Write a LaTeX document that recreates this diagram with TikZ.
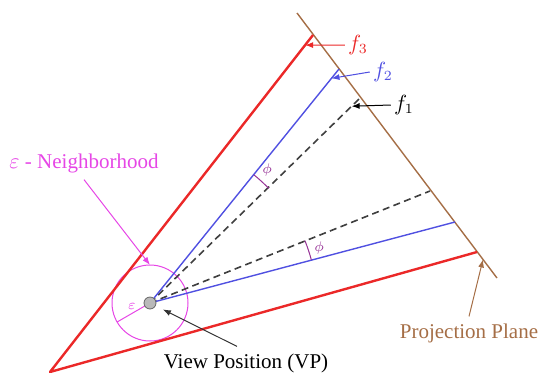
\documentclass[tikz,border=0pt]{standalone}
\usepackage{amsmath,amssymb}
\usepackage{fontspec}
\setmainfont{Liberation Serif}
\usetikzlibrary{arrows.meta,calc}
\definecolor{rayred}{RGB}{235,40,40}
\definecolor{rayblue}{RGB}{80,80,225}
\definecolor{nbhmag}{RGB}{230,70,230}
\definecolor{planebrown}{RGB}{165,110,70}
\definecolor{phipurple}{RGB}{150,50,150}

\begin{document}
\begin{tikzpicture}[x=0.5pt,y=0.5pt,every node/.style={font=\fontsize{10.5}{12}\selectfont},
  redray/.style={draw=rayred,line width=1.2pt,line join=round},
  blueray/.style={draw=rayblue,line width=0.7pt},
  viewray/.style={draw=black!75,line width=0.8pt,dash pattern=on 3.5pt off 2.2pt},
  pointer/.style={-{Latex[length=4pt,width=3pt]},line width=0.5pt}]
  \useasboundingbox (0,0) rectangle (541,372);
  \coordinate (apex) at (50,0);
  \coordinate (VP) at (150,69);
  \coordinate (pl1) at (297,359);
  \coordinate (pl2) at (497,94);
  \coordinate (r1) at (313,337);
  \coordinate (r2) at (477,120);
  \coordinate (b1) at (339,303);
  \coordinate (b2) at (455,150);
  \coordinate (d1) at (360,274);
  \coordinate (d2) at (430,181);
  \coordinate (t3) at ($(apex)!0.97!(r1)$);
  \coordinate (t2) at ($(VP)!0.96!(b1)$);
  \coordinate (t1) at ($(VP)!0.96!(d1)$);
  \coordinate (nbtop) at ($(VP)+(0,38)$);
  \coordinate (plpt) at ($(pl1)!0.93!(pl2)$);
  % epsilon neighbourhood
  \draw[nbhmag,line width=0.5pt] (VP) circle[radius=19pt];
  \draw[nbhmag,line width=0.5pt] (VP) -- node[pos=0.55,above,inner sep=1.5pt,font=\fontsize{7.5}{8}\selectfont]{$\varepsilon$} ($(VP)+(210:38)$);
  % frustum, rays and projection plane
  \draw[planebrown,line width=0.7pt] (pl1) -- (pl2);
  \draw[redray] (r1) -- (apex) -- (r2);
  \draw[viewray] (VP) -- (d1) (VP) -- (d2);
  \draw[blueray] (VP) -- (b1) (VP) -- (b2);
  \draw[phipurple,line width=0.5pt] ($(VP)+(44:165)$) arc[start angle=44,end angle=51,radius=82.5pt];
  \draw[phipurple,line width=0.5pt] ($(VP)+(15:167)$) arc[start angle=15,end angle=22,radius=83.5pt];
  \node[phipurple,inner sep=0pt,font=\fontsize{7}{8}\selectfont] (phi1) at ($(VP)+(48.5:177)$) {$\phi$};
  \node[phipurple,inner sep=0pt,font=\fontsize{7}{8}\selectfont] (phi2) at ($(VP)+(18:178)$) {$\phi$};
  \node[circle,draw=black!60,fill=gray!55,minimum size=6pt,inner sep=0pt] (vpdot) at (VP) {};
  % labels
  \foreach \k/\c/\x/\y in {3/rayred/358/327,2/rayblue/383/300,1/black/404/267}{
    \node[\c,inner sep=1.5pt] (f\k) at (\x,\y) {$f_{\k}$};
    \draw[pointer,\c] (f\k.west) -- (t\k);
  }
  \node[nbhmag] (nbh) at (84,209) {$\varepsilon$ - Neighborhood};
  \draw[pointer,nbhmag] (nbh.south) -- (nbtop);
  \node (vptext) at (246,9) {View Position (VP)};
  \draw[pointer,black!80,shorten >=4pt] ($(vptext.north)+(-9,0)$) -- (vpdot);
  \node[planebrown] (pptext) at (469,39) {Projection Plane};
  \draw[pointer,planebrown] (pptext.north) -- (plpt);
\end{tikzpicture}
\end{document}
